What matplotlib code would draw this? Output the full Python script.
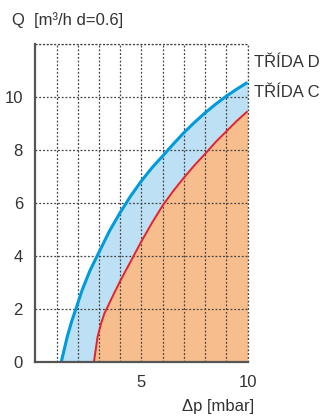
import matplotlib
matplotlib.use("Agg")
import matplotlib.pyplot as plt

# points: pressure drop [mbar] vs flow [m3/h]
dp_d = [1.22, 1.5, 1.7, 1.91, 2.2, 2.57, 3.0, 3.5, 4.0, 4.5, 5.0, 5.5,
        6.0, 6.5, 7.0, 7.5, 8.0, 8.5, 9.0, 9.5, 10.0]
q_d = [0.0, 0.94, 1.5, 2.0, 2.7, 3.44, 4.14, 4.95, 5.64, 6.27, 6.83, 7.33,
       7.77, 8.22, 8.65, 9.04, 9.4, 9.73, 10.03, 10.3, 10.55]

dp_c = [2.76, 2.93, 3.1, 3.25, 3.36, 3.7, 4.0, 4.25, 4.5, 5.0, 5.5, 6.0,
        6.5, 7.0, 7.5, 8.0, 8.5, 9.0, 9.5, 10.0]
q_c = [0.0, 0.94, 1.45, 1.82, 2.0, 2.57, 3.05, 3.43, 3.8, 4.55, 5.25, 5.9,
       6.45, 6.95, 7.42, 7.85, 8.3, 8.7, 9.1, 9.46]

x_grid = [1, 2, 3, 4, 5, 6, 7, 8, 9, 10]
x_labels = ["", "", "", "", "5", "", "", "", "", "10"]
y_grid = [0, 2, 4, 6, 8, 10, 12]
y_labels = ["0", "2", "4", "6", "8", "10", ""]

plt.rcParams["font.family"] = ["Liberation Sans", "DejaVu Sans"]
text_col = "#333333"
grid_col = "#444444"

fig = plt.figure(figsize=(3.28, 4.18), dpi=100)
ax = fig.add_axes([0.108, 0.1347, 0.6466, 0.76])

# fills: blue band under D, orange under C
ax.fill_between(dp_d, q_d, 0, color="#bde0f5", lw=0, zorder=1)
ax.fill_between(dp_c, q_c, 0, color="#f8bd8c", lw=0, zorder=2)

ax.set_xlim(0, 10)
ax.set_ylim(0, 12)
ax.set_xticks(x_grid)
ax.set_xticklabels(x_labels)
ax.set_yticks(y_grid)
ax.set_yticklabels(y_labels)
ax.tick_params(length=0, labelsize=12, colors=text_col)
ax.tick_params(axis="x", pad=9.5)
ax.tick_params(axis="y", pad=9)

ax.grid(True, color=grid_col, lw=0.9, ls=(0, (1.5, 1.5)), zorder=3)
ax.set_axisbelow(False)
ax.axhline(12, color=grid_col, lw=0.9, ls=(0, (1.5, 1.5)), clip_on=False, zorder=3)
ax.axvline(10, color=grid_col, lw=0.9, ls=(0, (1.5, 1.5)), clip_on=False, zorder=3)

ax.plot(dp_d, q_d, color="#009bdc", lw=2.2, zorder=4, solid_capstyle="butt")
ax.plot(dp_c, q_c, color="#e62129", lw=1.4, zorder=4, solid_capstyle="butt")

for side in ["top", "right"]:
    ax.spines[side].set_visible(False)
for side in ["left", "bottom"]:
    ax.spines[side].set_color("#555555")
    ax.spines[side].set_linewidth(1.6)
    ax.spines[side].set_zorder(5)

fig.text(0.037, 0.952, "Q  [m³/h d=0.6]", fontsize=12, color=text_col, va="center")
fig.text(0.775, 0.851, "TŘÍDA D", fontsize=12, color=text_col, va="center")
fig.text(0.775, 0.778, "TŘÍDA C", fontsize=12, color=text_col, va="center")
fig.text(0.665, 0.027, "Δp [mbar]", fontsize=12, color=text_col, va="center", ha="center")

fig.savefig("out.png", dpi=100)
